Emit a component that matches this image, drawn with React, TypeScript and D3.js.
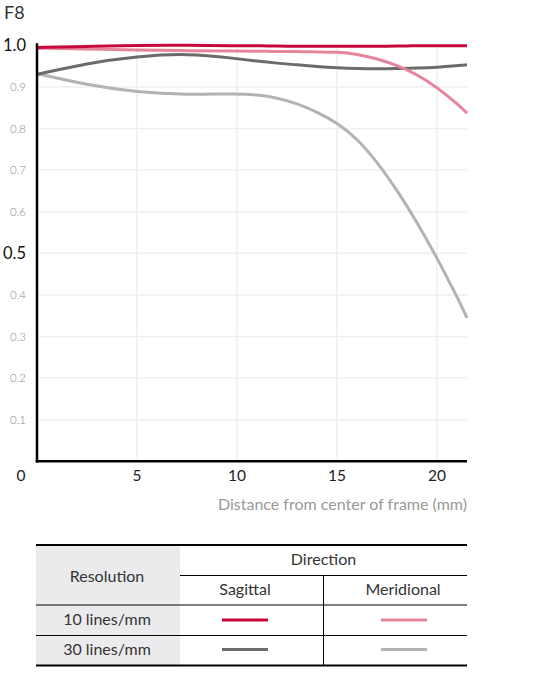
import * as d3 from "d3"

// MTF chart, F8 aperture
const distances = [0, 2.5, 5, 7.5, 10, 11, 12, 13, 14, 15, 16, 17, 18, 19, 20, 21, 21.5]
const sagittal10 = [0.995, 0.997, 1.0, 1.0, 0.999, 0.999, 0.998, 0.998, 0.998, 0.998, 0.998, 0.998, 0.998, 0.999, 0.999, 0.999, 0.999]
const meridional10 = [0.993, 0.991, 0.989, 0.987, 0.986, 0.986, 0.985, 0.985, 0.984, 0.984, 0.979, 0.968, 0.952, 0.93, 0.899, 0.86, 0.837]
const sagittal30 = [0.93, 0.957, 0.973, 0.981, 0.968, 0.962, 0.957, 0.953, 0.949, 0.946, 0.944, 0.943, 0.944, 0.945, 0.947, 0.951, 0.953]
const meridional30 = [0.932, 0.905, 0.887, 0.881, 0.884, 0.881, 0.874, 0.86, 0.84, 0.814, 0.776, 0.72, 0.652, 0.575, 0.489, 0.396, 0.345]

const xTicks = [0, 5, 10, 15, 20]
const yTicks = [0.1, 0.2, 0.3, 0.4, 0.5, 0.6, 0.7, 0.8, 0.9, 1.0]
const bigYTicks = [0.5, 1.0]

const series = [
  { name: "30M", values: meridional30, color: "#b3b3b3" },
  { name: "30S", values: sagittal30, color: "#6b6b6b" },
  { name: "10M", values: meridional10, color: "#e5849b" },
  { name: "10S", values: sagittal10, color: "#c8083a" },
]

const FONT = "Lato, 'Open Sans', sans-serif"

export default function App() {
  const x = d3.scaleLinear().domain([0, 21.5]).range([37, 467])
  const y = d3.scaleLinear().domain([0, 1]).range([461.3, 45.3])

  const line = d3.line<number>()
    .x((_, i) => x(distances[i]))
    .y(d => y(d))
    .curve(d3.curveBasis)

  const tLeft = 36, tRight = 467, tMid = 180, tDiv = 323.5
  const rowTop = 545, rowDir = 575.5, row10 = 605, row30 = 635.5, rowEnd = 665.5

  return (
    <div style={{ position: "absolute", left: 0, top: 0 }}>
      <svg width={547} height={675} style={{ display: "block", fontFamily: FONT }}>
        <rect width={547} height={675} fill="#fff" />
        <text x={4} y={18.5} fontSize={18} fill="#333">F8</text>

        {/* grid */}
        {yTicks.filter(t => t < 1).map(t => (
          <line key={"gy" + t} x1={x(0)} x2={x(21.5)} y1={y(t)} y2={y(t)} stroke="#efefef" strokeWidth={1.5} />
        ))}
        {xTicks.filter(t => t > 0).map(t => (
          <line key={"gx" + t} x1={x(t)} x2={x(t)} y1={y(1.0)} y2={y(0)} stroke="#efefef" strokeWidth={1.5} />
        ))}

        {/* curves */}
        {series.map(s => (
          <path key={s.name} d={line(s.values) || ""} fill="none" stroke={s.color} strokeWidth={3} />
        ))}

        {/* axes */}
        <line x1={x(0)} x2={x(0)} y1={y(1.0) - 2} y2={y(0) + 1.2} stroke="#000" strokeWidth={2.5} />
        <line x1={x(0) - 1.2} x2={x(21.5)} y1={y(0)} y2={y(0)} stroke="#000" strokeWidth={2.5} />

        {yTicks.map(t => {
          const big = bigYTicks.includes(t)
          return (
            <text key={"ty" + t} x={26} y={y(t) + (big ? 5.5 : 4)} textAnchor="end"
              fontSize={big ? 16.5 : 11.5} fill={big ? "#111" : "#888"} fontWeight={big ? 400 : 300}>
              {t.toFixed(1)}
            </text>
          )
        })}
        {xTicks.map(t => (
          <text key={"tx" + t} x={t === 0 ? 21 : x(t)} y={481} textAnchor="middle" fontSize={15.5} fill="#222">{t}</text>
        ))}
        <text x={467} y={510} textAnchor="end" fontSize={16} fill="#999">Distance from center of frame (mm)</text>

        {/* legend table */}
        <rect x={tLeft} y={rowTop} width={tMid - tLeft} height={rowEnd - rowTop} fill="#ebebee" />
        <line x1={tLeft} x2={tRight} y1={rowTop} y2={rowTop} stroke="#000" strokeWidth={2} />
        <line x1={tMid} x2={tRight} y1={rowDir} y2={rowDir} stroke="#000" strokeWidth={1} />
        <line x1={tLeft} x2={tRight} y1={row10} y2={row10} stroke="#000" strokeWidth={1} />
        <line x1={tLeft} x2={tRight} y1={row30} y2={row30} stroke="#000" strokeWidth={1} />
        <line x1={tLeft} x2={tRight} y1={rowEnd} y2={rowEnd} stroke="#000" strokeWidth={2} />
        <line x1={tDiv} x2={tDiv} y1={rowDir} y2={rowEnd} stroke="#000" strokeWidth={1} />

        <text x={107} y={582} textAnchor="middle" fontSize={16} fill="#333">Resolution</text>
        <text x={323.5} y={565} textAnchor="middle" fontSize={16} fill="#333">Direction</text>
        <text x={245} y={595} textAnchor="middle" fontSize={16} fill="#333">Sagittal</text>
        <text x={403} y={595} textAnchor="middle" fontSize={16} fill="#333">Meridional</text>
        <text x={107} y={625} textAnchor="middle" fontSize={16} fill="#333">10 lines/mm</text>
        <text x={107} y={655} textAnchor="middle" fontSize={16} fill="#333">30 lines/mm</text>

        <line x1={222} x2={268} y1={620} y2={620} stroke="#c8083a" strokeWidth={3} />
        <line x1={381} x2={427} y1={620} y2={620} stroke="#e5849b" strokeWidth={3} />
        <line x1={222} x2={268} y1={649.5} y2={649.5} stroke="#6b6b6b" strokeWidth={3} />
        <line x1={381} x2={427} y1={649.5} y2={649.5} stroke="#b3b3b3" strokeWidth={3} />
      </svg>
    </div>
  )
}
